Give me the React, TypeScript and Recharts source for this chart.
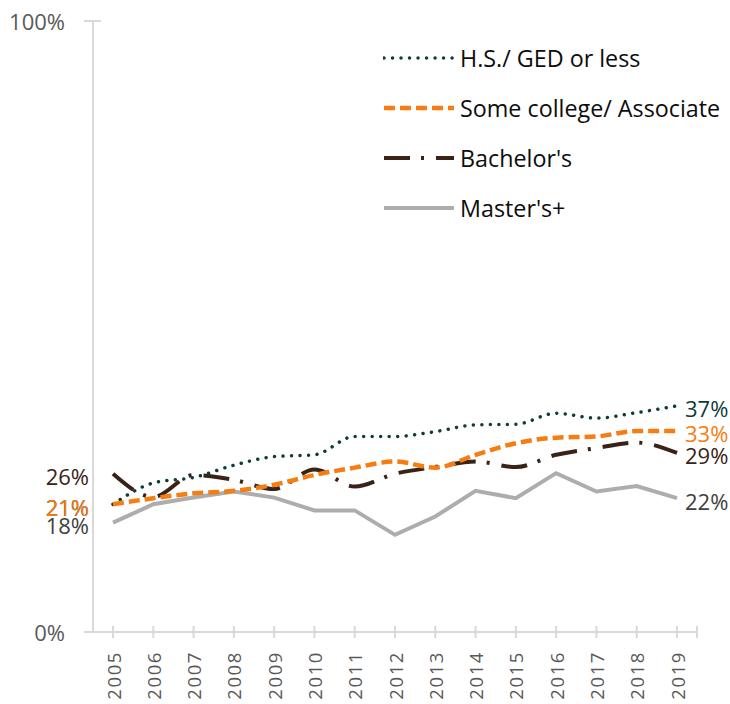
import React from 'react';
import { LineChart, Line, XAxis, YAxis, Legend, LabelList } from 'recharts';

const years = ['2005', '2006', '2007', '2008', '2009', '2010', '2011', '2012', '2013', '2014', '2015', '2016', '2017', '2018', '2019'];
const hsGed = [20.9, 24.4, 25.3, 27.3, 28.7, 29.0, 32.0, 32.0, 32.8, 33.9, 34.0, 35.8, 35.0, 35.9, 37.0];
const someCollege = [20.9, 21.9, 22.7, 23.1, 24.1, 25.7, 26.9, 27.9, 26.9, 29.0, 30.9, 31.8, 32.0, 32.9, 32.9];
const bachelors = [25.9, 22.1, 25.7, 24.9, 23.4, 26.6, 23.8, 25.9, 27.0, 27.9, 27.0, 29.0, 30.1, 31.0, 29.3];
const masters = [17.9, 20.9, 22.0, 23.0, 22.0, 19.9, 19.9, 15.9, 18.9, 23.1, 21.9, 26.0, 23.0, 23.9, 21.9];
const yTicks = [0, 100];

const FONT = "'Open Sans', 'DejaVu Sans', sans-serif";
const AXIS_COLOR = '#D9D9D9';

const series = [
  { key: 'hs', name: 'H.S./ GED or less', color: '#0E3C39', labelColor: '#0E3C39', width: 3.5, dash: '0.01 8.5', cap: 'round', curve: 'monotone' },
  { key: 'sc', name: 'Some college/ Associate', color: '#F67D12', labelColor: '#F67D12', width: 4.5, dash: '11 5', cap: 'butt', curve: 'monotone' },
  { key: 'ba', name: "Bachelor's", color: '#3A2216', labelColor: '#3A2216', width: 4, dash: '26 11 3 12', cap: 'butt', curve: 'monotone' },
  { key: 'ma', name: "Master's+", color: '#ADADAD', labelColor: '#404040', width: 4, dash: undefined, cap: 'butt', curve: 'linear' },
];

const data = years.map((year, i) => ({
  year,
  hs: hsGed[i],
  sc: someCollege[i],
  ba: bachelors[i],
  ma: masters[i],
}));

const makeLabel = (color: string) => (props: any) => {
  const { x, y, value, index } = props;
  if (index !== 0 && index !== years.length - 1) return null;
  const left = index === 0;
  return (
    <text
      x={left ? x - 24 : x + 8}
      y={y + 2.5}
      textAnchor={left ? 'end' : 'start'}
      dominantBaseline="central"
      fill={color}
      fontSize={22}
      fontFamily={FONT}
    >
      {Math.round(value)}%
    </text>
  );
};

const YTick = (props: any) => {
  const { x, y, payload } = props;
  const axisX = x + 28;
  return (
    <g>
      <line x1={axisX - 9} x2={axisX + 8} y1={y} y2={y} stroke={AXIS_COLOR} strokeWidth={2} />
      <text x={x} y={y} textAnchor="end" dominantBaseline="central" fill="#595959" fontSize={22} fontFamily={FONT}>
        {payload.value}%
      </text>
    </g>
  );
};

const XTick = (props: any) => {
  const { x, y, payload, index } = props;
  const axisY = y - 19;
  return (
    <g>
      <line x1={x} x2={x} y1={axisY - 6} y2={axisY + 6} stroke={AXIS_COLOR} strokeWidth={2} />
      {index === years.length - 1 ? (
        <line x1={x + 20} x2={x + 20} y1={axisY - 6} y2={axisY + 6} stroke={AXIS_COLOR} strokeWidth={2} />
      ) : null}
      <text
        x={x}
        y={y}
        transform={`rotate(-90, ${x}, ${y})`}
        textAnchor="end"
        dominantBaseline="central"
        fill="#595959"
        fontSize={18.5}
        letterSpacing={1.6}
        fontFamily={FONT}
      >
        {payload.value}
      </text>
    </g>
  );
};

const LegendContent = () => (
  <div style={{ fontFamily: FONT }}>
    {series.map((s) => (
      <div key={s.key} style={{ display: 'flex', alignItems: 'center', height: 50 }}>
        <svg width={72} height={10} style={{ display: 'block' }}>
          <line
            x1={1}
            y1={5}
            x2={71}
            y2={5}
            stroke={s.color}
            strokeWidth={s.width}
            strokeDasharray={s.dash}
            strokeLinecap={s.cap as any}
          />
        </svg>
        <span style={{ marginLeft: 5, fontSize: 23.3, color: '#0D0D0D', lineHeight: '50px', whiteSpace: 'nowrap' }}>
          {s.name}
        </span>
      </div>
    ))}
  </div>
);

const drawOrder = ['ma', 'ba', 'hs', 'sc'];

export default function App() {
  return (
    <div style={{ position: 'absolute', left: 0, top: 0 }}>
      <LineChart
        width={730}
        height={704}
        data={data}
        margin={{ top: 21, right: 33, bottom: 0, left: 0 }}
      >
        <XAxis
          dataKey="year"
          interval={0}
          padding={{ left: 20, right: 20 }}
          height={72}
          tickSize={6}
          tickMargin={13}
          tickLine={false}
          axisLine={{ stroke: AXIS_COLOR, strokeWidth: 2 }}
          tick={<XTick />}
        />
        <YAxis
          type="number"
          domain={[0, 100]}
          ticks={yTicks}
          width={93}
          tickSize={8}
          tickMargin={20}
          tickLine={false}
          axisLine={{ stroke: AXIS_COLOR, strokeWidth: 2 }}
          tick={<YTick />}
        />
        <Legend
          layout="vertical"
          align="center"
          verticalAlign="middle"
          content={<LegendContent />}
          wrapperStyle={{ left: 383, top: 33, width: 345 }}
        />
        {drawOrder.map((k) => {
          const s = series.find((x) => x.key === k)!;
          return (
            <Line
              key={s.key}
              dataKey={s.key}
              name={s.name}
              type={s.curve as any}
              stroke={s.color}
              strokeWidth={s.width}
              strokeDasharray={s.dash}
              strokeLinecap={s.cap as any}
              dot={false}
              activeDot={false}
              isAnimationActive={false}
            >
              <LabelList dataKey={s.key} content={makeLabel(s.labelColor)} />
            </Line>
          );
        })}
      </LineChart>
    </div>
  );
}
